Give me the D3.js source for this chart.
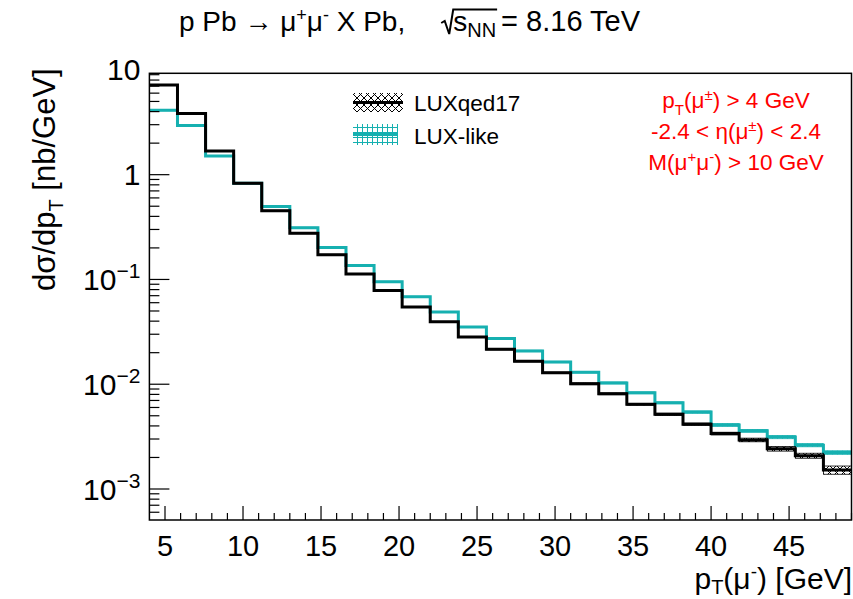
<!DOCTYPE html>
<html>
<head>
<meta charset="utf-8">
<script src="https://cdn.jsdelivr.net/npm/d3@7/dist/d3.min.js"></script>
<style>
  body { margin: 0; background: #fff; }
  svg { display: block; font-family: "Liberation Sans", Arial, Helvetica, sans-serif; }
</style>
</head>
<body>
<script>
// bin edges of the pT(mu-) histogram [GeV]
const binEdges = [4, 5.8, 7.6, 9.4, 11.2, 13, 14.8, 16.6, 18.4, 20.2, 22, 23.8, 25.6,
  27.4, 29.2, 31, 32.8, 34.6, 36.4, 38.2, 40, 41.8, 43.6, 45.4, 47.2, 49];

// dsigma/dpT [nb/GeV]
const luxqed17 = [7.19, 3.83, 1.68, 0.826, 0.453, 0.276, 0.172, 0.113, 0.0785, 0.0545,
  0.0394, 0.0282, 0.0216, 0.0166, 0.01285, 0.0101, 0.0081, 0.00643, 0.00516, 0.00416,
  0.00338, 0.00294, 0.00242, 0.00208, 0.00152];
const luxLike = [4.11, 2.94, 1.51, 0.83, 0.498, 0.312, 0.202, 0.136, 0.0951, 0.0684,
  0.0489, 0.0351, 0.0273, 0.0208, 0.0163, 0.013, 0.0103, 0.00827, 0.00664, 0.00542,
  0.00409, 0.00359, 0.00313, 0.00262, 0.00223];

// relative uncertainty bands
const luxqed17Err = [0.01, 0.01, 0.01, 0.01, 0.01, 0.01, 0.01, 0.01, 0.01, 0.01,
  0.01, 0.01, 0.015, 0.015, 0.015, 0.02, 0.02, 0.02, 0.025, 0.025,
  0.03, 0.04, 0.05, 0.055, 0.09];
const luxLikeErr = [0.01, 0.01, 0.01, 0.01, 0.01, 0.01, 0.01, 0.01, 0.01, 0.01,
  0.01, 0.01, 0.01, 0.015, 0.015, 0.015, 0.02, 0.02, 0.02, 0.025,
  0.03, 0.03, 0.035, 0.035, 0.04];

const xMajor = [5, 10, 15, 20, 25, 30, 35, 40, 45];
const yMajor = [1e-3, 1e-2, 1e-1, 1, 10];
const yLabels = [["10", "\u22123"], ["10", "\u22122"], ["10", "\u22121"], ["1", ""], ["10", ""]];

// text pieces: 0 = normal, 1 = subscript, -1 = superscript
const cutLines = [
  [["p", 0], ["T", 1], ["(\u03bc", 0], ["\u00b1", -1], [") > 4 GeV", 0]],
  [["-2.4 < \u03b7(\u03bc", 0], ["\u00b1", -1], [") < 2.4", 0]],
  [["M(\u03bc", 0], ["+", -1], ["\u03bc", 0], ["-", -1], [") > 10 GeV", 0]]
];

const series = [
  { name: "LUX-like", values: luxLike, err: luxLikeErr, color: "#16b0b0", fill: "url(#gridHatch)" },
  { name: "LUXqed17", values: luxqed17, err: luxqed17Err, color: "#000", fill: "url(#crossHatch)" }
];

const W = 853, H = 599;
const margin = { top: 73.3, right: 1.5, bottom: 79, left: 149.4 };

const svg = d3.select("body").append("svg")
  .attr("width", W)
  .attr("height", H);

const x = d3.scaleLinear().domain([4, 49]).range([margin.left, W - margin.right]);
const y = d3.scaleLog().domain([5.06e-4, 9.28]).range([H - margin.bottom, margin.top]);

// hatch patterns
const defs = svg.append("defs");
const cross = defs.append("pattern")
  .attr("id", "crossHatch").attr("patternUnits", "userSpaceOnUse")
  .attr("width", 7).attr("height", 7);
cross.append("path").attr("d", "M0,0L7,7M7,0L0,7").attr("stroke", "#000").attr("stroke-width", 1);
const grid = defs.append("pattern")
  .attr("id", "gridHatch").attr("patternUnits", "userSpaceOnUse")
  .attr("width", 5).attr("height", 5);
grid.append("path").attr("d", "M0,2.5H5M2.5,0V5").attr("stroke", "#16b0b0").attr("stroke-width", 1);

const plot = svg.append("g");

// histograms: band first, then the step line
series.forEach(s => {
  const bins = s.values.map((v, i) => ({ x0: binEdges[i], x1: binEdges[i + 1], v, e: s.err[i] }));

  plot.append("g").selectAll("rect")
    .data(bins)
    .enter().append("rect")
    .attr("x", d => x(d.x0))
    .attr("width", d => x(d.x1) - x(d.x0))
    .attr("y", d => y(d.v * (1 + d.e)))
    .attr("height", d => y(d.v * (1 - d.e)) - y(d.v * (1 + d.e)))
    .attr("fill", s.fill)
    .attr("stroke", s.color)
    .attr("stroke-width", 0.8);

  const pts = bins.map(d => [d.x0, d.v]).concat([[binEdges[binEdges.length - 1], s.values[s.values.length - 1]]]);
  const line = d3.line()
    .x(d => x(d[0]))
    .y(d => y(d[1]))
    .curve(d3.curveStepAfter);

  plot.append("path")
    .datum(pts)
    .attr("d", line)
    .attr("fill", "none")
    .attr("stroke", s.color)
    .attr("stroke-width", 3);
});

// frame
svg.append("rect")
  .attr("x", x(4)).attr("y", y.range()[1])
  .attr("width", x(49) - x(4))
  .attr("height", y.range()[0] - y.range()[1])
  .attr("fill", "none")
  .attr("stroke", "#000")
  .attr("stroke-width", 1.5);

// x ticks
const xAxisY = y.range()[0];
svg.append("g").selectAll("line")
  .data(x.ticks(45).filter(t => t > 4 && t <= 49))
  .enter().append("line")
  .attr("x1", d => x(d)).attr("x2", d => x(d))
  .attr("y1", xAxisY)
  .attr("y2", d => xAxisY - (d % 5 === 0 ? 14 : 7))
  .attr("stroke", "#000").attr("stroke-width", 1.2);

svg.append("g").selectAll("text")
  .data(xMajor)
  .enter().append("text")
  .attr("x", d => x(d))
  .attr("y", xAxisY + 35.5)
  .attr("text-anchor", "middle")
  .style("font-size", "29px")
  .text(d => d);

// y ticks
const [yLo, yHi] = y.domain();
svg.append("g").selectAll("line")
  .data(y.ticks().filter(t => t >= yLo && t <= yHi))
  .enter().append("line")
  .attr("x1", x(4))
  .attr("x2", d => x(4) + (yMajor.includes(d) ? 20 : 10))
  .attr("y1", d => y(d)).attr("y2", d => y(d))
  .attr("stroke", "#000").attr("stroke-width", 1.2);

const yl = svg.append("g").selectAll("text")
  .data(yMajor)
  .enter().append("text")
  .attr("x", x(4) - 9)
  .attr("y", d => y(d) + 10.5)
  .attr("text-anchor", "end")
  .style("font-size", "30px");
yl.append("tspan").text((d, i) => yLabels[i][0]);
yl.append("tspan")
  .attr("dy", -12)
  .style("font-size", "21px")
  .text((d, i) => yLabels[i][1]);

// axis titles
const xt = svg.append("text")
  .attr("x", W - 1)
  .attr("y", 589)
  .attr("text-anchor", "end")
  .style("font-size", "30px");
xt.append("tspan").text("p");
xt.append("tspan").attr("dy", 5).style("font-size", "20px").text("T");
xt.append("tspan").attr("dy", -5).text("(\u03bc");
xt.append("tspan").attr("dy", -11).style("font-size", "19px").text("-");
xt.append("tspan").attr("dy", 11).text(") [GeV]");

const yt = svg.append("text")
  .attr("transform", `translate(55,${margin.top - 5}) rotate(-90)`)
  .attr("text-anchor", "end")
  .style("font-size", "31px");
yt.append("tspan").text("d\u03c3/dp");
yt.append("tspan").attr("dy", 8).style("font-size", "20px").text("T");
yt.append("tspan").attr("dy", -8).text(" [nb/GeV]");

// title
const t1 = svg.append("text")
  .attr("x", 179).attr("y", 31)
  .style("font-size", "28px");
t1.append("tspan").text("p Pb \u2192 \u03bc");
t1.append("tspan").attr("dy", -10).style("font-size", "18px").text("+");
t1.append("tspan").attr("dy", 10).text("\u03bc");
t1.append("tspan").attr("dy", -10).style("font-size", "18px").text("-");
t1.append("tspan").attr("dy", 10).text(" X Pb,");
const rx = 179 + t1.node().getComputedTextLength() + 36;

const t2 = svg.append("text")
  .attr("x", rx + 12).attr("y", 31)
  .style("font-size", "28px");
t2.append("tspan").text("s");
t2.append("tspan").attr("dy", 6).style("font-size", "20px").text("NN");
const t2end = rx + 12 + t2.node().getComputedTextLength();
svg.append("path")
  .attr("d", `M${rx},23L${rx + 3.5},21L${rx + 8},34L${rx + 12},9.5L${t2end + 1},9.5`)
  .attr("fill", "none").attr("stroke", "#000").attr("stroke-width", 2);
svg.append("text")
  .attr("x", t2end + 5).attr("y", 31)
  .style("font-size", "29px")
  .text("= 8.16 TeV");

// legend
const legend = svg.append("g");
const legendItems = [
  { s: series[1], y: 93, h: 19, w: 50 },
  { s: series[0], y: 124, h: 21, w: 45 }
];
legendItems.forEach(it => {
  legend.append("rect")
    .attr("x", 353).attr("y", it.y)
    .attr("width", it.w).attr("height", it.h)
    .attr("fill", it.s.fill);
  legend.append("line")
    .attr("x1", 353).attr("x2", 353 + it.w)
    .attr("y1", it.y + it.h / 2).attr("y2", it.y + it.h / 2)
    .attr("stroke", it.s.color).attr("stroke-width", 3);
  legend.append("text")
    .attr("x", 414).attr("y", it.y + it.h - 1)
    .style("font-size", "22.5px")
    .text(it.s.name);
});

// selection cuts
const cuts = svg.append("g").attr("fill", "#ff0000");
cutLines.forEach((parts, i) => {
  const t = cuts.append("text")
    .attr("x", 736).attr("y", 108 + i * 31)
    .attr("text-anchor", "middle")
    .style("font-size", "22.5px");
  let shift = 0;
  parts.forEach(([str, pos]) => {
    const target = pos === 1 ? 7 : pos === -1 ? -8 : 0;
    t.append("tspan")
      .attr("dy", target - shift)
      .style("font-size", pos === 0 ? "22.5px" : "15px")
      .text(str);
    shift = target;
  });
});
</script>
</body>
</html>
